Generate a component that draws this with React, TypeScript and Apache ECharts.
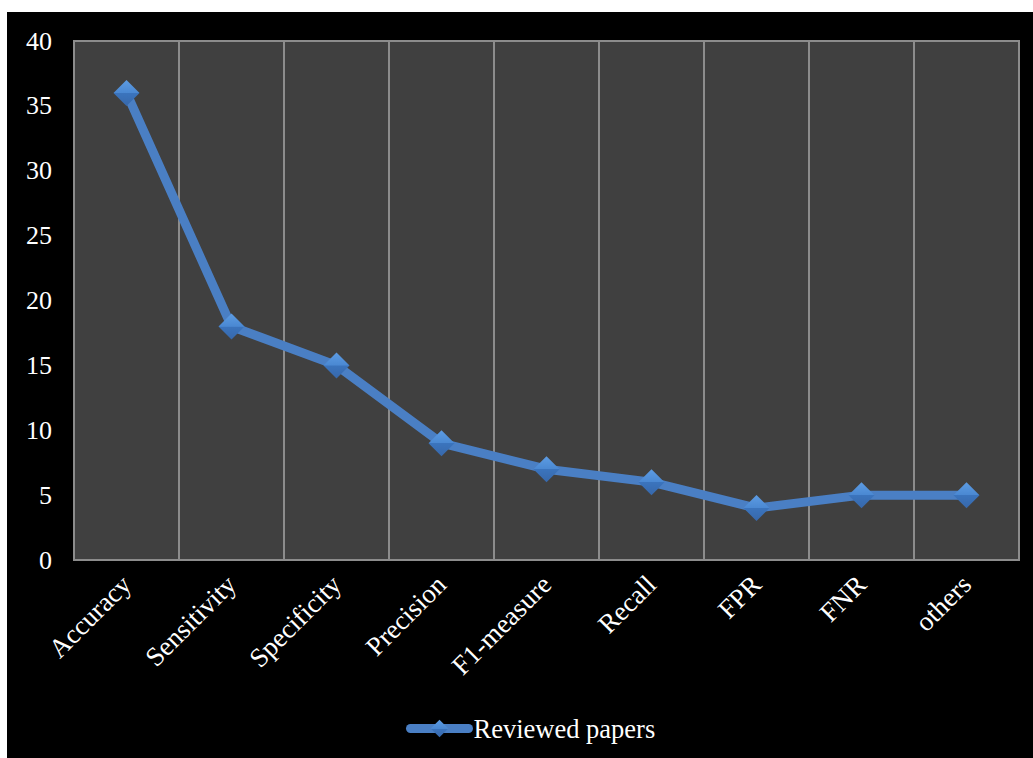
import React, { useEffect, useRef } from "react";
import * as echarts from "echarts";

const categories = ["Accuracy", "Sensitivity", "Specificity", "Precision", "F1-measure", "Recall", "FPR", "FNR", "others"];
const reviewedPapers = [36, 18, 15, 9, 7, 6, 4, 5, 5];
const seriesName = "Reviewed papers";

export default function App() {
  const ref = useRef<HTMLDivElement>(null);
  useEffect(() => {
    const chart = echarts.init(ref.current!, null, { renderer: "svg" });
    const font = "Liberation Serif";
    const markerColor = new echarts.graphic.LinearGradient(0, 0, 0, 1, [
      { offset: 0, color: "#5d9ce3" },
      { offset: 0.5, color: "#4a88d2" },
      { offset: 0.51, color: "#3b74bd" },
      { offset: 1, color: "#3768ab" },
    ]);
    chart.setOption({
      animation: false,
      backgroundColor: "#000000",
      textStyle: { fontFamily: font },
      grid: {
        left: 67,
        right: 14,
        top: 29,
        bottom: 198,
        show: true,
        backgroundColor: "#404040",
        borderColor: "#8c8c8c",
        borderWidth: 2,
      },
      legend: {
        bottom: 11,
        left: 394,
        itemWidth: 58,
        itemHeight: 22,
        itemGap: 2,
        lineStyle: { width: 9, cap: "round" },
        textStyle: { color: "#ffffff", fontSize: 26.5, fontFamily: font },
        data: [seriesName],
      },
      xAxis: {
        type: "category",
        data: categories,
        boundaryGap: true,
        axisLine: { show: true, lineStyle: { color: "#8c8c8c", width: 2 } },
        axisTick: { show: false },
        splitLine: { show: true, lineStyle: { color: "#8c8c8c", width: 2 } },
        axisLabel: {
          color: "#ffffff",
          fontSize: 27,
          rotate: 45,
          margin: 20,
          fontFamily: font,
          interval: 0,
        },
      },
      yAxis: {
        type: "value",
        min: 0,
        max: 40,
        interval: 5,
        axisLine: { show: false },
        axisTick: { show: false },
        splitLine: { show: false },
        axisLabel: { color: "#ffffff", fontSize: 26, margin: 22, fontFamily: font },
      },
      series: [
        {
          name: seriesName,
          type: "line",
          data: reviewedPapers,
          symbol: "diamond",
          symbolSize: 26,
          lineStyle: { color: "#4a7fc4", width: 9, cap: "round" },
          itemStyle: { color: markerColor, borderWidth: 0 },
        },
      ],
    });
    return () => chart.dispose();
  }, []);
  return (
    <div
      ref={ref}
      style={{ position: "fixed", left: 7, top: 12, width: 1026, height: 746 }}
    />
  );
}
